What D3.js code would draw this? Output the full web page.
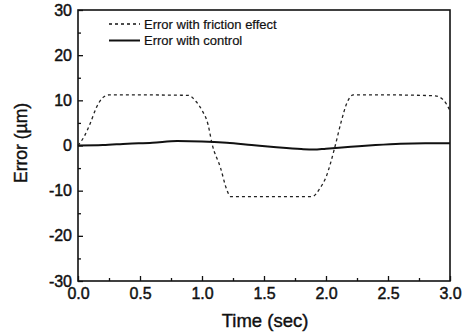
<!DOCTYPE html>
<html>
<head>
<meta charset="utf-8">
<script src="https://cdn.jsdelivr.net/npm/d3@7"></script>
<style>
  body { margin: 0; background: #fff; }
  text { font-family: "Liberation Sans", Arial, sans-serif; fill: #111; }
</style>
</head>
<body>
<script>
// values
var timeFriction = [0, 0.05, 0.1, 0.15, 0.2, 0.25, 0.5, 0.89, 0.95, 1.0, 1.05, 1.08, 1.15, 1.2, 1.23, 1.5, 1.89, 1.95, 2.0, 2.07, 2.12, 2.17, 2.22, 2.5, 2.88, 2.95, 3.0]
var errFriction = [0, 2, 5, 8.5, 10.6, 11.2, 11.2, 11.1, 9.8, 7.8, 4.5, 0.5, -5, -9.8, -11.3, -11.3, -11.3, -9.5, -7, -0.5, 5, 9.5, 11.2, 11.2, 11.0, 10, 7.7]
var timeControl = [0, 0.2, 0.4, 0.6, 0.8, 1.0, 1.2, 1.4, 1.6, 1.8, 1.9, 2.0, 2.2, 2.4, 2.6, 2.8, 3.0]
var errControl = [0, 0.1, 0.4, 0.6, 1.0, 0.9, 0.6, 0.1, -0.4, -0.8, -0.9, -0.7, -0.3, 0.1, 0.4, 0.5, 0.5]
var xTicks = [0, 0.5, 1.0, 1.5, 2.0, 2.5, 3.0]
var yTicks = [-30, -20, -10, 0, 10, 20, 30]
var legendLabels = ["Error with friction effect", "Error with control"]

var W = 465, H = 335
var margin = {top: 10, right: 15, bottom: 54, left: 78}
var width = W - margin.left - margin.right,
    height = H - margin.top - margin.bottom

var svg = d3.select("body").append("svg")
  .attr("width", W).attr("height", H)
var g = svg.append("g")
  .attr("transform", "translate(" + margin.left + "," + margin.top + ")")

var x = d3.scaleLinear().domain([0, 3]).range([0, width])
var y = d3.scaleLinear().domain([-30, 30]).range([height, 0])

// frame
g.append("rect")
  .attr("width", width).attr("height", height)
  .attr("fill", "none").attr("stroke", "#111").attr("stroke-width", 1.6)

// x axis, ticks pointing inward
g.append("g")
  .attr("transform", "translate(0," + height + ")")
  .call(d3.axisBottom(x).tickValues(d3.range(0.25, 3, 0.5)).tickSize(-3).tickFormat(""))
  .call(a => a.select(".domain").remove())
var xa = g.append("g")
  .attr("transform", "translate(0," + height + ")")
  .call(d3.axisBottom(x).tickValues(xTicks).tickSize(-5).tickPadding(6).tickFormat(d3.format(".1f")))
xa.select(".domain").remove()
xa.selectAll("text").attr("dy", "0.75em")

// y axis
g.append("g")
  .call(d3.axisLeft(y).tickValues(d3.range(-25, 30, 10)).tickSize(-3).tickFormat(""))
  .call(a => a.select(".domain").remove())
var ya = g.append("g")
  .call(d3.axisLeft(y).tickValues(yTicks).tickSize(-5).tickPadding(6).tickFormat(d => String(d)))
ya.select(".domain").remove()
// scanned look: regular weight with a thin outline
g.selectAll(".tick text")
  .style("font-size", "16px")
  .style("font-family", "'Liberation Sans', Arial, sans-serif")
  .attr("fill", "#111").attr("stroke", "#111").attr("stroke-width", 0.45)
g.selectAll(".tick line").attr("stroke", "#111").attr("stroke-width", 1.3)

var line = d3.line()
  .x(d => x(d[0])).y(d => y(d[1]))
  .curve(d3.curveMonotoneX)

g.append("path")
  .datum(d3.zip(timeFriction, errFriction))
  .attr("d", line)
  .attr("fill", "none").attr("stroke", "#222")
  .attr("stroke-width", 1.3).attr("stroke-dasharray", "3,3")

g.append("path")
  .datum(d3.zip(timeControl, errControl))
  .attr("d", line)
  .attr("fill", "none").attr("stroke", "#111").attr("stroke-width", 2)

// legend
var leg = g.selectAll(".leg").data(legendLabels).enter().append("g")
  .attr("transform", (d, i) => "translate(31," + (14 + i * 16.5) + ")")
leg.append("line")
  .attr("x1", 0).attr("x2", 31)
  .attr("stroke", "#111")
  .attr("stroke-width", (d, i) => i ? 2 : 1.3)
  .attr("stroke-dasharray", (d, i) => i ? null : "3,3")
leg.append("text")
  .attr("x", 35).attr("dy", "0.35em")
  .style("font-size", "13px")
  .attr("stroke", "#111").attr("stroke-width", 0.2)
  .text(d => d)

// axis titles
svg.append("text")
  .attr("x", margin.left + width / 2 + 1).attr("y", 327)
  .attr("text-anchor", "middle").style("font-size", "18.5px")
  .attr("stroke", "#111").attr("stroke-width", 0.4)
  .text("Time (sec)")
svg.append("text")
  .attr("transform", "translate(27," + 143 + ") rotate(-90)")
  .attr("text-anchor", "middle").style("font-size", "17.5px")
  .attr("stroke", "#111").attr("stroke-width", 0.4)
  .text("Error (µm)")
</script>
</body>
</html>
